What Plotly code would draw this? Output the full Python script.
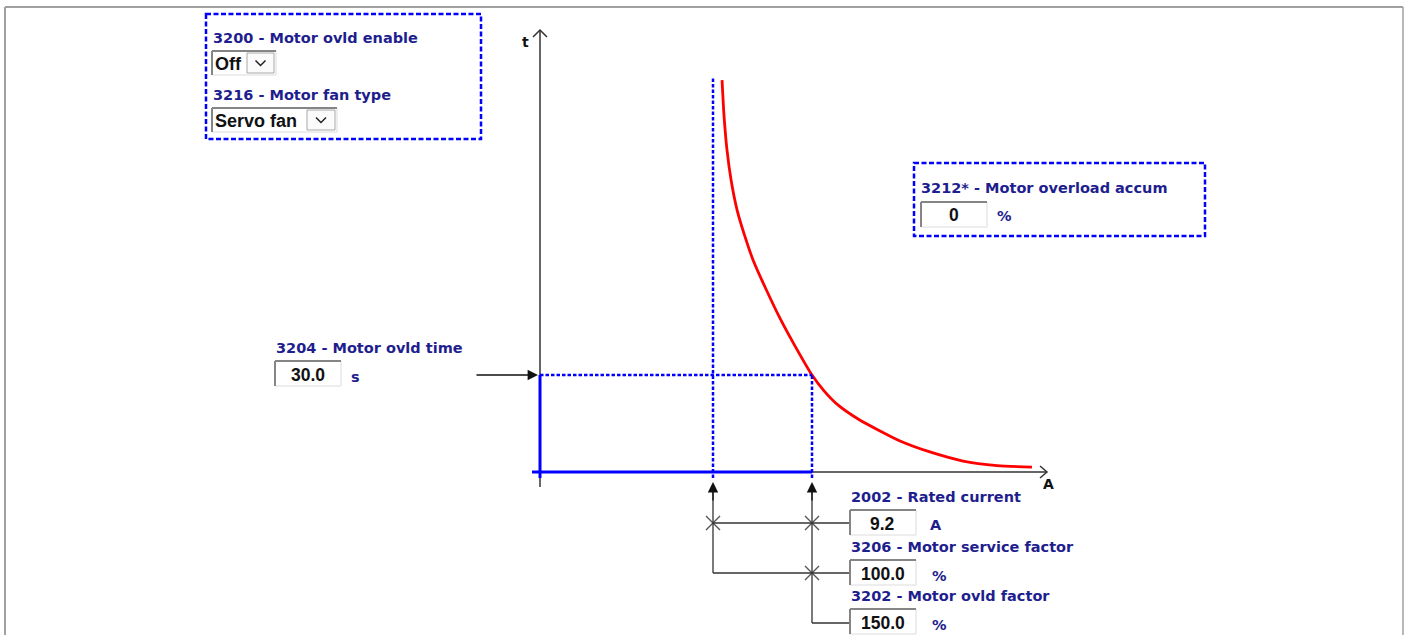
import plotly.graph_objects as go

W, H = 1404, 635

# ---------------- data ----------------
rated_current = 9.2        # A   (2002 - Rated current)
service_factor = 100.0     # %   (3206 - Motor service factor)
ovld_factor = 150.0        # %   (3202 - Motor ovld factor)
ovld_time = 30.0           # s   (3204 - Motor ovld time)
overload_accum = 0         # %   (3212* - Motor overload accum)
ovld_enable = "Off"        # 3200 - Motor ovld enable
fan_type = "Servo fan"     # 3216 - Motor fan type

# overload characteristic (current in A, time in s)
curve_current = [9.62, 9.71, 9.85, 10.04, 10.32, 10.69, 11.06, 11.66, 12.31, 13.06, 13.80,
                 14.36, 14.96, 15.94, 16.96, 17.89, 19.28, 20.82, 22.40, 24.02]
curve_time = [121.2, 110.4, 99.6, 90.3, 81.0, 72.7, 65.6, 56.6, 47.6, 38.4, 30.0,
              25.1, 21.0, 16.4, 12.7, 9.6, 6.2, 3.4, 2.0, 1.5]

# ---------------- scales ----------------
I_base = rated_current * service_factor / 100.0
I_ovl = rated_current * ovld_factor / 100.0
PX_BASE, PX_OVL = 713, 812          # layout positions of the two current marks
PY_ZERO, PY_TIME = 472, 375         # layout positions of t=0 and the ovld time
sx = (PX_OVL - PX_BASE) / (I_ovl - I_base)
x_lo = I_base - PX_BASE / sx
x_hi = x_lo + W / sx
sy = (PY_ZERO - PY_TIME) / ovld_time
y_hi = PY_ZERO / sy
y_lo = -(H - PY_ZERO) / sy


def A(px):
    return x_lo + px / sx


def T(py):
    return (PY_ZERO - py) / sy


def PX(px):
    return px / W


def PY(py):
    return 1 - py / H


NAVY = "#1e1e8e"
BLUE = "#0000ff"
AXC = "#333333"
LBL = 14.5

shapes = []
annotations = []


def pline(x0, y0, x1, y1, color, width, dash=None):
    d = dict(type="line", xref="paper", yref="paper", x0=PX(x0), y0=PY(y0), x1=PX(x1), y1=PY(y1),
             line=dict(color=color, width=width))
    if dash:
        d["line"]["dash"] = dash
    shapes.append(d)


def ppath(pts, color, width):
    s = "M " + " L ".join(f"{PX(x):.6f},{PY(y):.6f}" for x, y in pts)
    shapes.append(dict(type="path", xref="paper", yref="paper", path=s, line=dict(color=color, width=width)))


def prect(x0, y0, x1, y1, fill="white", color="#d0d0d0", width=1, dash=None):
    d = dict(type="rect", xref="paper", yref="paper", x0=PX(x0), y0=PY(y0), x1=PX(x1), y1=PY(y1),
             fillcolor=fill, line=dict(color=color, width=width))
    if dash:
        d["line"]["dash"] = dash
    shapes.append(d)


def text(t, px, py, size=LBL, color=NAVY, bold=True, family="DejaVu Sans", xanchor="left"):
    annotations.append(dict(xref="paper", yref="paper", x=PX(px), y=PY(py),
                            text=f"<b>{t}</b>" if bold else t, showarrow=False,
                            xanchor=xanchor, yanchor="middle", borderpad=0, borderwidth=0,
                            font=dict(family=family, size=size, color=color)))


def sunken(x0, y0, x1, y1):
    prect(x0, y0, x1, y1, fill="white", color="#dcdcdc", width=1)
    pline(x0, y0, x1, y0, "#858585", 2)
    pline(x0, y0, x0, y1, "#858585", 2)


def input_box(x0, y0, x1, y1, value):
    sunken(x0, y0, x1, y1)
    text(value, (x0 + x1) / 2, (y0 + y1) / 2 + 1, size=17.5, color="#111111", bold=True,
         family="Liberation Sans", xanchor="center")


def dropdown(x0, y0, x1, y1, bx0, value):
    sunken(x0, y0, x1, y1)
    prect(bx0, y0 + 2, x1 - 2, y1 - 2, fill="#fbfbfb", color="#a8a8a8", width=1)
    cx, cy = (bx0 + x1 - 2) / 2, (y0 + y1) / 2
    ppath([(cx - 5, cy - 2.5), (cx, cy + 2.5), (cx + 5, cy - 2.5)], "#222222", 1.5)
    text(value, x0 + 3, (y0 + y1) / 2 + 1, size=18, color="#111111", bold=True,
         family="Liberation Sans")


# ---------------- frame ----------------
pline(5, 7, 1403, 7, "#a0a0a0", 2)
pline(5, 7, 5, 640, "#a0a0a0", 2)
pline(1403, 7, 1403, 640, "#a0a0a0", 1.5)

# ---------------- parameter boxes ----------------
prect(206, 14, 481, 139, fill="rgba(0,0,0,0)", color=BLUE, width=2.5, dash="5px,2.5px")
text("3200 - Motor ovld enable", 213, 38)
dropdown(212, 51, 276, 75, 247, ovld_enable)
text("3216 - Motor fan type", 213, 95)
dropdown(212, 108, 337, 132, 307, fan_type)

prect(914, 163, 1205, 236, fill="rgba(0,0,0,0)", color=BLUE, width=2.5, dash="5px,2.5px")
text("3212* - Motor overload accum", 921, 188)
input_box(921, 202, 987, 227, f"{overload_accum}")
text("%", 997, 216)

text("3204 - Motor ovld time", 276, 348)
input_box(275, 361, 341, 386, f"{ovld_time:.1f}")
text("s", 351, 377)

# ---------------- axes ----------------
pline(540, 487, 540, 30, AXC, 1.5)
ppath([(533, 37), (540, 30), (547, 37)], AXC, 1.5)
text("t", 522, 42, size=14, color="#111111")
pline(540, 472, 1047, 472, AXC, 1.5)
ppath([(1040, 466), (1047, 472), (1040, 478)], AXC, 1.5)
text("A", 1043, 484, size=14, color="#111111")

# ---------------- data lines ----------------
x_axis_start = A(532)
x_axis = A(540)
y_top = T(78)
y_tick = T(478)
# solid blue working area
shapes.append(dict(type="line", xref="x", yref="y", x0=x_axis_start, y0=0, x1=I_ovl, y1=0,
                   line=dict(color=BLUE, width=3)))
shapes.append(dict(type="line", xref="x", yref="y", x0=x_axis, y0=y_tick, x1=x_axis, y1=ovld_time,
                   line=dict(color=BLUE, width=3)))
# dotted guides
dot = "3.5px,2px"
shapes.append(dict(type="line", xref="x", yref="y", x0=I_base, y0=y_tick, x1=I_base, y1=y_top,
                   line=dict(color=BLUE, width=2.5, dash=dot)))
shapes.append(dict(type="line", xref="x", yref="y", x0=I_ovl, y0=y_tick, x1=I_ovl, y1=ovld_time,
                   line=dict(color=BLUE, width=2.5, dash=dot)))
shapes.append(dict(type="line", xref="x", yref="y", x0=x_axis, y0=ovld_time, x1=I_ovl, y1=ovld_time,
                   line=dict(color=BLUE, width=2.5, dash=dot)))

# ---------------- bottom connection network ----------------
for xi, yb in ((I_base, 573), (I_ovl, 623)):
    shapes.append(dict(type="line", xref="x", yref="paper", x0=xi, y0=PY(490), x1=xi, y1=PY(yb),
                       line=dict(color=AXC, width=1.3)))
    annotations.append(dict(xref="x", yref="paper", x=xi, y=PY(482), text="", showarrow=True,
                            ax=0, ay=20, arrowhead=2, arrowsize=1.6, arrowwidth=1.3, arrowcolor="#111111"))
shapes.append(dict(type="line", xref="x", yref="paper", x0=I_base, y0=PY(523), x1=A(850), y1=PY(523),
                   line=dict(color=AXC, width=1.3)))
shapes.append(dict(type="line", xref="x", yref="paper", x0=I_base, y0=PY(573), x1=A(850), y1=PY(573),
                   line=dict(color=AXC, width=1.3)))
shapes.append(dict(type="line", xref="x", yref="paper", x0=I_ovl, y0=PY(623), x1=A(850), y1=PY(623),
                   line=dict(color=AXC, width=1.3)))

text("2002 - Rated current", 851, 497)
input_box(850, 510, 916, 535, f"{rated_current:.1f}")
text("A", 930, 525)
text("3206 - Motor service factor", 851, 547)
input_box(850, 560, 916, 585, f"{service_factor:.1f}")
text("%", 932, 576)
text("3202 - Motor ovld factor", 851, 596)
input_box(850, 609, 916, 634, f"{ovld_factor:.1f}")
text("%", 932, 625)

# ovld time arrow
annotations.append(dict(xref="x", yref="y", x=A(538), y=ovld_time, text="", showarrow=True,
                        ax=-63, ay=0, arrowhead=2, arrowsize=1.6, arrowwidth=1.3, arrowcolor="#111111"))

fig = go.Figure()
fig.add_trace(go.Scatter(x=curve_current, y=curve_time, mode="lines",
                         line=dict(color="#ff0000", width=2.8, shape="spline", smoothing=0.6),
                         hoverinfo="skip", showlegend=False))
fig.add_trace(go.Scatter(x=[I_base, I_ovl, I_ovl], y=[T(523), T(523), T(573)], mode="markers",
                         marker=dict(symbol="x-thin", size=14, line=dict(width=1.4, color="#555555")),
                         hoverinfo="skip", showlegend=False))

fig.update_layout(
    width=W, height=H, margin=dict(l=0, r=0, t=0, b=0),
    paper_bgcolor="white", plot_bgcolor="white",
    xaxis=dict(range=[x_lo, x_hi], visible=False, fixedrange=True),
    yaxis=dict(range=[y_lo, y_hi], visible=False, fixedrange=True),
    shapes=shapes, annotations=annotations, showlegend=False,
)
fig.write_html("out.html", config={"displayModeBar": False},
               post_script="document.body.style.margin='0';document.body.style.overflow='hidden';")
